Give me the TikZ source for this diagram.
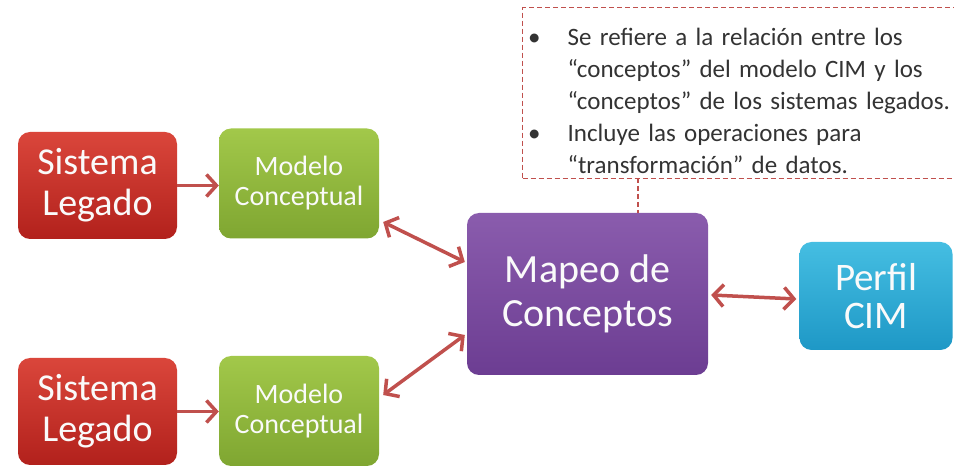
\documentclass[tikz,border=0pt]{standalone}
\usepackage{fontspec}
\setmainfont{Carlito}
\usetikzlibrary{arrows.meta}
\definecolor{legtop}{HTML}{DA463B}
\definecolor{legbot}{HTML}{B2211C}
\definecolor{modtop}{HTML}{A2C84A}
\definecolor{modbot}{HTML}{7FA631}
\definecolor{maptop}{HTML}{8A5CAD}
\definecolor{mapbot}{HTML}{6C3D92}
\definecolor{pertop}{HTML}{45BEE2}
\definecolor{perbot}{HTML}{1E98C6}
\definecolor{linkred}{HTML}{C0504D}
\definecolor{notetext}{HTML}{333333}
\begin{document}
\begin{tikzpicture}[x=1pt,y=-1pt,
            block/.style={rounded corners=12pt, text=white!96!gray, align=center, inner sep=0pt},
            legbox/.style={block, top color=legtop, bottom color=legbot, minimum width=159pt, minimum height=107pt,
              font=\fontsize{38}{41}\selectfont},
            modbox/.style={block, top color=modtop, bottom color=modbot, minimum width=160pt, minimum height=110pt,
              font=\fontsize{28}{30}\selectfont},
            mapbox/.style={block, top color=maptop, bottom color=mapbot, minimum width=241pt, minimum height=162pt,
              font=\fontsize{40}{44}\selectfont},
            perbox/.style={block, top color=pertop, bottom color=perbot, minimum width=153pt, minimum height=108pt,
              font=\fontsize{39}{38}\selectfont},
            link/.style={draw=linkred, line width=3.5pt, {Straight Barb[length=10pt,width=22pt]}-{Straight Barb[length=10pt,width=22pt]}},
            onelink/.style={draw=linkred, line width=3.5pt, -{Straight Barb[length=10pt,width=22pt]}},
            notebox/.style={draw=linkred, line width=1.3pt, dash pattern=on 5pt off 3pt, text=notetext,
              text width=436pt, inner sep=0pt, minimum height=171pt, font=\fontsize{25}{32}\selectfont}
            ]
            \useasboundingbox (0,0) rectangle (954,470);

            \node[legbox] (leg1) at (97.5,185.5) {Sistema\\Legado};
            \node[modbox] (mod1) at (299,183.5) {Modelo\\Conceptual};
            \node[legbox] (leg2) at (97.5,411.5) {Sistema\\Legado};
            \node[modbox] (mod2) at (299,411) {Modelo\\Conceptual};
            \node[mapbox] (map) at (587.5,294) {Mapeo de\\Conceptos};
            \node[perbox] (perf) at (876,296) {Perfil\\CIM};

            % nota sobre el mapeo
            \node[notebox, anchor=north west] (note) at (522,7) {%
              \begin{list}{\textbullet}{\setlength{\leftmargin}{45pt}\setlength{\labelsep}{27pt}%
                \setlength{\itemsep}{0pt}\setlength{\topsep}{0pt}\setlength{\parsep}{0pt}}\raggedright
              \item Se refiere a la relación entre los\\“conceptos” del modelo CIM y los\\“conceptos” de los sistemas legados.
              \item Incluye las operaciones para\\“transformación” de datos.
              \end{list}};
            \coordinate (tip) at (638,178);
            \draw[draw=linkred, line width=1.3pt, dash pattern=on 5pt off 3pt] (tip) -- (tip |- map.north);

            \draw[onelink] (leg1.east) -- (leg1.east -| mod1.west);
            \draw[onelink] (leg2.east) -- (leg2.east -| mod2.west);
            \draw[link] ([xshift=4pt,yshift=-38.5pt]mod1.east) -- ([xshift=-2pt,yshift=32pt]map.west);
            \draw[link] ([xshift=4pt,yshift=16pt]mod2.east) -- ([xshift=-2pt,yshift=-41pt]map.west);
            \draw[link] ([xshift=3pt,yshift=-1pt]map.east) -- ([xshift=-3pt,yshift=-3pt]perf.west);
            
\end{tikzpicture}
\end{document}
